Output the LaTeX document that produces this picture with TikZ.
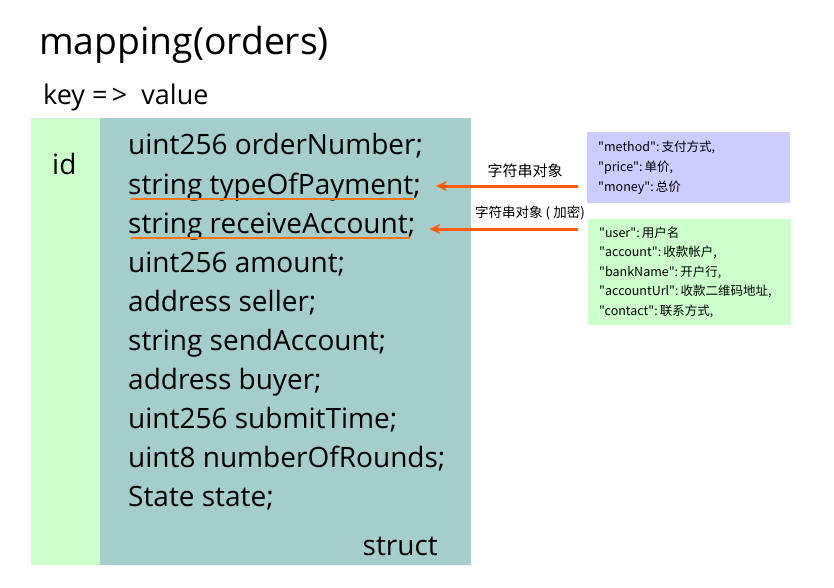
\documentclass[tikz,border=0pt]{standalone}
\usepackage{fontspec}
\setmainfont{Open Sans}
\newfontfamily\cjk{Noto Sans CJK SC}
\usepackage{xcolor}
\usetikzlibrary{arrows.meta}
\definecolor{keygreen}{HTML}{CCFFCC}
\definecolor{structteal}{HTML}{A4CDCB}
\definecolor{objpurple}{HTML}{CCCCFF}
\definecolor{linkorange}{HTML}{FF5C0A}

\begin{document}
\begin{tikzpicture}[x=1pt, y=-1pt, >=Stealth,
field/.style={anchor=base west, inner sep=0pt, font=\fontsize{28}{32}\selectfont},
note/.style={anchor=north west, align=left, inner xsep=11pt, inner ysep=0pt, text width=181pt, minimum width=203pt, font=\cjk\fontsize{12.5}{19.6}\selectfont},
tag/.style={inner sep=0pt, font=\cjk\fontsize{15}{17}\selectfont},
link/.style={->, draw=linkorange, line width=3pt, arrows={-Stealth[length=11pt,width=10pt]}},
uline/.style={draw=linkorange!85!yellow, line width=1.6pt}]
\useasboundingbox (0,0) rectangle (834,588);
% key and value columns
\fill[keygreen] (31,118) rectangle (100,565);
\fill[structteal] (100,118) rectangle (471,565);
\node[anchor=base west, inner sep=0pt, font=\fontsize{37.3}{42}\selectfont] (title) at (39,55) {mapping(orders)};
\node[anchor=base west, inner sep=0pt, font=\fontsize{27}{32}\selectfont] (kv) at (43,105) {key =\,>\ \ value};
\node[anchor=base west, inner sep=0pt, font=\fontsize{28}{32}\selectfont] (id) at (52,175) {id};
\node[field] (num) at (128,155) {uint256 orderNumber;};
\node[field] (pay) at (128,194) {string typeOfPayment;};
\node[field] (recv) at (128,233) {string receiveAccount;};
\node[field] (amt) at (128,272) {uint256 amount;};
\node[field] (seller) at (128,311) {address seller;};
\node[field] (send) at (128,350) {string sendAccount;};
\node[field] (buyer) at (128,389) {address buyer;};
\node[field] (time) at (128,428) {uint256 submitTime;};
\node[field] (rounds) at (128,467) {uint8 numberOfRounds;};
\node[field] (state) at (128,506) {State state;};
\node[field, anchor=base east] (struct) at (438,555) {struct};
% string objects
\node[note, fill=objpurple, minimum height=71pt] (payobj) at (587,132) {"method":\,支付方式,\\"price":\,单价,\\"money":\,总价};
\node[note, fill=keygreen, minimum height=106pt] (recvobj) at (588,219) {"user":\,用户名\\"account":\,收款帐户,\\"bankName":\,开户行,\\"accountUrl":\,收款二维码地址,\\"contact":\,联系方式,};
\coordinate (payfrom) at (578,186);
\coordinate (recvfrom) at (578,229);
\draw[uline] ([xshift=3pt,yshift=-5pt]pay.base west) -- ([xshift=-7pt,yshift=-5pt]pay.base east);
\draw[uline] ([xshift=3pt,yshift=-5pt]recv.base west) -- ([xshift=-5pt,yshift=-5pt]recv.base east);
\draw[link] (payfrom) -- ([xshift=15pt]payfrom -| pay.east);
\draw[link] (recvfrom) -- ([xshift=14pt]recvfrom -| recv.east);
\node[tag] (paytag) at (525,171) {字符串对象};
\node[tag, font=\cjk\fontsize{13.5}{16}\selectfont] (recvtag) at (530,213) {字符串对象 ( 加密)};
\end{tikzpicture}
\end{document}
